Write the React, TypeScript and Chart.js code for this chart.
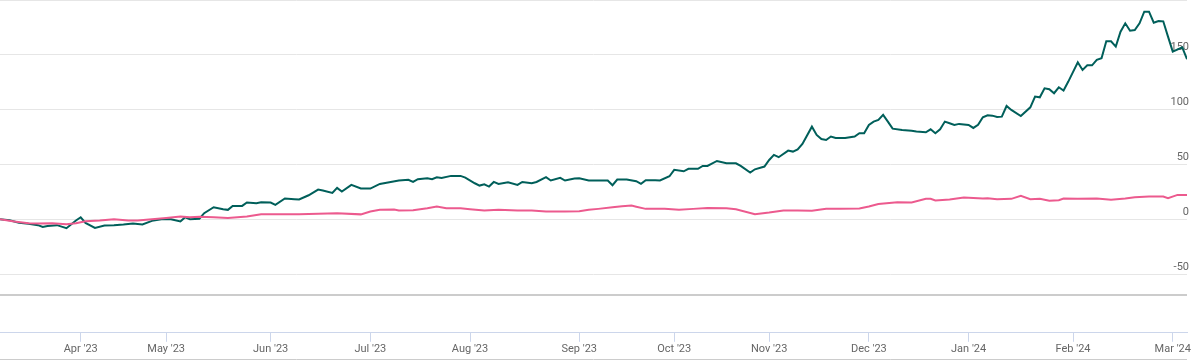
import React, { useEffect, useRef } from "react";
import { Chart, registerables } from "chart.js";

Chart.register(...registerables);

// x = trading-day index
const monthDays = [17, 35, 57, 78, 99, 122, 142, 162, 183, 204, 226, 247];
const monthLabels = ["Apr '23", "May '23", "Jun '23", "Jul '23", "Aug '23", "Sep '23", "Oct '23", "Nov '23", "Dec '23", "Jan '24", "Feb '24", "Mar '24"];
const yTicks = [-50, 0, 50, 100, 150, 200];

const greenDays = [0, 2, 4, 6, 8, 9, 10, 12, 14, 16, 17, 18, 20, 22, 24, 26, 28, 30, 32, 34, 36, 38, 39, 40, 42, 43, 45, 47, 48, 49, 51, 52, 54, 55, 57, 58, 60, 62, 63, 65, 67, 68, 70, 71, 72, 74, 76, 78, 80, 82, 84, 86, 87, 88, 90, 91, 92, 93, 95, 97, 98, 100, 101, 102, 103, 104, 105, 107, 109, 110, 112, 113, 115, 116, 118, 119, 121, 122, 124, 126, 128, 129, 130, 132, 134, 135, 136, 138, 139, 141, 142, 144, 145, 147, 148, 149, 151, 153, 155, 156, 158, 159, 161, 162, 163, 164, 166, 167, 168, 169, 171, 172, 173, 174, 175, 176, 178, 180, 181, 182, 183, 184, 185, 186, 187, 188, 190, 192, 193, 195, 196, 197, 198, 199, 200, 201, 202, 204, 205, 206, 207, 208, 209, 210, 211, 212, 213, 215, 217, 218, 219, 220, 221, 222, 223, 224, 225, 227, 228, 229, 230, 231, 232, 233, 234, 235, 236, 237, 238, 239, 240, 241, 242, 243, 244, 245, 246, 247, 249, 250];
const greenValues = [0.6, -0.3, -2.7, -3.6, -4.8, -6.5, -5.5, -4.8, -7.6, -0.6, 2.4, -2.7, -7.3, -5.2, -4.8, -4.2, -3.3, -4.2, -0.9, 0.6, 0.6, -1.5, 2.4, 0.6, 1.0, 6.1, 11.5, 9.7, 9.1, 12.7, 12.7, 15.8, 15.2, 16.1, 15.8, 13.6, 19.4, 18.8, 18.5, 22.4, 27.6, 26.7, 24.5, 29.1, 25.8, 31.8, 28.5, 28.5, 32.7, 34.2, 35.8, 36.4, 34.5, 37, 37.9, 37, 38.8, 38.2, 40, 40, 38.5, 33.3, 31.2, 32.4, 30.3, 34.5, 32.7, 34.2, 31.8, 34.5, 33.3, 34.5, 38.8, 35.8, 38.2, 35.8, 37.6, 37.9, 35.8, 35.8, 35.8, 31.5, 36.7, 36.7, 35.2, 32.7, 36, 36, 35.8, 39.7, 45.5, 44.2, 46.4, 46.4, 49.1, 49.1, 53.6, 51.5, 51.5, 49.1, 43, 46, 48.5, 54.5, 59.1, 57, 63, 62.1, 64, 69.1, 84.8, 77.3, 73.6, 72.7, 75.8, 74.5, 74.5, 75.8, 78.8, 78.8, 86.4, 89.4, 90.9, 95.5, 89.4, 83, 81.8, 81, 80.3, 79.7, 82.4, 78.8, 82.4, 89.4, 87.9, 86.4, 87.3, 86.4, 83.6, 86.4, 93.3, 95.2, 94.8, 93.6, 93.9, 103.6, 100, 94.5, 102.4, 112.1, 111.5, 119.7, 118.8, 115.2, 120.6, 117.6, 125.8, 143.3, 136.4, 140.6, 140.6, 145.5, 147, 162.4, 162.4, 157.6, 171.2, 178.8, 172.1, 172.7, 178.8, 189.4, 189.4, 179.4, 180.9, 180.6, 166.7, 153, 157, 146.1];

const pinkDays = [0, 3, 6, 8, 11, 14, 16, 18, 21, 24, 27, 29, 32, 35, 38, 40, 42, 45, 48, 52, 55, 59, 63, 67, 71, 76, 78, 80, 83, 84, 87, 90, 92, 94, 97, 99, 102, 105, 109, 112, 115, 119, 122, 124, 126, 129, 131, 133, 134, 136, 140, 143, 146, 149, 153, 155, 159, 162, 165, 168, 171, 174, 177, 181, 183, 185, 189, 192, 195, 196, 197, 200, 203, 205, 207, 208, 210, 213, 215, 217, 219, 221, 223, 224, 227, 231, 234, 237, 239, 242, 245, 246, 248, 250];
const pinkValues = [0.6, -1.5, -3, -3.3, -3, -4, -3, -1.2, -0.6, 0.6, -0.6, -0.6, 0.6, 1.8, 3, 2.4, 2.8, 2.4, 1.8, 3, 5.2, 5, 5.2, 5.5, 6, 5, 7.6, 9.1, 9.4, 8.5, 8.8, 10.6, 12.1, 10.6, 10.6, 9.7, 8.5, 9.1, 8.5, 8.5, 7.6, 7.6, 7.9, 9.1, 10, 11.5, 12.4, 13, 12, 10, 10, 9.1, 10, 10.9, 10.6, 9.7, 5.2, 6.7, 8.5, 8.6, 8.2, 10, 10, 10.3, 12.1, 14.5, 16.1, 15.8, 19.1, 19.1, 17.6, 18.5, 20.3, 20, 19.4, 19.7, 18.8, 19.1, 21.8, 18.8, 19.1, 17.3, 17.9, 19.4, 19.1, 19.4, 18.2, 19.4, 20.6, 21.2, 21.2, 19.7, 22.7, 22.7];

const panesPlugin = {
  id: "panes",
  afterDraw(chart: any) {
    const { ctx, chartArea, scales } = chart;
    const yTop = Math.round(scales.y.getPixelForValue(-68.2));
    ctx.save();
    ctx.strokeStyle = "#cccccc";
    ctx.lineWidth = 2;
    ctx.beginPath();
    ctx.moveTo(chartArea.left, yTop);
    ctx.lineTo(chartArea.right, yTop);
    ctx.stroke();
    ctx.lineWidth = 1;
    ctx.beginPath();
    ctx.moveTo(chartArea.left, chart.height - 1.5);
    ctx.lineTo(chartArea.right, chart.height - 1.5);
    ctx.stroke();
    ctx.restore();
  },
};

export default function App() {
  const ref = useRef<HTMLCanvasElement | null>(null);
  useEffect(() => {
    document.body.style.margin = "0";
    const canvas = ref.current;
    if (!canvas) return;
    const chart = new Chart(canvas, {
      type: "line",
      data: {
        datasets: [
          {
            data: pinkDays.map((d, i) => ({ x: d, y: pinkValues[i] })),
            borderColor: "#ec5a8e",
            borderWidth: 2,
            pointRadius: 0,
            tension: 0,
          },
          {
            data: greenDays.map((d, i) => ({ x: d, y: greenValues[i] })),
            borderColor: "#005f5a",
            borderWidth: 2,
            pointRadius: 0,
            tension: 0,
          },
        ],
      },
      options: {
        responsive: false,
        animation: false,
        layout: { padding: { left: 0, right: 11, top: 0, bottom: 4 } },
        plugins: { legend: { display: false }, tooltip: { enabled: false } },
        scales: {
          x: {
            type: "linear",
            min: 0,
            max: 250,
            afterBuildTicks: (axis: any) => {
              axis.ticks = monthDays.map((v) => ({ value: v }));
            },
            afterFit: (axis: any) => {
              axis.paddingLeft = 0;
              axis.paddingRight = 0;
            },
            grid: { drawOnChartArea: false, color: "#ccd6eb", tickLength: 9 },
            border: { color: "#ccd6eb" },
            ticks: {
              autoSkip: false,
              maxRotation: 0,
              padding: 1,
              color: "#666666",
              font: { family: "Roboto", size: 11 },
              callback: (v: any) => {
                const i = monthDays.indexOf(Number(v));
                return i >= 0 ? monthLabels[i] : "";
              },
            },
          },
          y: {
            type: "linear",
            position: "right",
            min: 200 - 333 / 1.1,
            max: 200,
            afterBuildTicks: (axis: any) => {
              axis.ticks = yTicks.map((v) => ({ value: v }));
            },
            afterFit: (axis: any) => {
              axis.paddingTop = 0;
              axis.paddingBottom = 0;
            },
            grid: { color: "#e6e6e6", drawTicks: false },
            border: { display: false },
            ticks: {
              mirror: true,
              padding: 2,
              labelOffset: -8,
              color: "#666666",
              font: { family: "Roboto", size: 11 },
              callback: (v: any) => (Number(v) >= 200 ? "" : String(v)),
            },
          },
        },
      },
      plugins: [panesPlugin],
    });
    return () => chart.destroy();
  }, []);
  return (
    <div style={{ width: 1202, height: 361 }}>
      <canvas ref={ref} width={1202} height={361} style={{ display: "block" }} />
    </div>
  );
}
